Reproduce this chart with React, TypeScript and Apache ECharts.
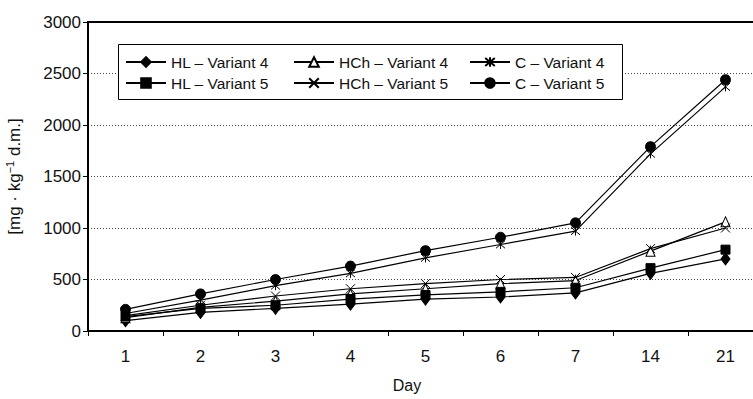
import React, { useEffect, useRef } from "react";
import * as echarts from "echarts";

const days = ["1", "2", "3", "4", "5", "6", "7", "14", "21"];
const hlV4 = [100, 180, 220, 260, 310, 330, 370, 560, 700];
const hlV5 = [140, 220, 250, 310, 350, 380, 420, 610, 790];
const hchV4 = [130, 230, 290, 360, 410, 460, 490, 775, 1060];
const hchV5 = [150, 250, 340, 410, 460, 500, 520, 800, 1000];
const cV4 = [170, 300, 440, 560, 710, 840, 970, 1720, 2370];
const cV5 = [210, 360, 500, 630, 780, 910, 1050, 1790, 2440];
const yTicks = [0, 500, 1000, 1500, 2000, 2500, 3000];

const FONT = "Liberation Sans, Arial, sans-serif";
const X_PATH = "path://M0,0L10,10M10,0L0,10";
const STAR_PATH = "path://M0,0L10,10M10,0L0,10M5,-1L5,11";

export default function App() {
  const ref = useRef<HTMLDivElement>(null);
  useEffect(() => {
    if (!ref.current) return;
    const chart = echarts.init(ref.current, null, { renderer: "svg" });
    const mk = (name: string, data: number[], symbol: string, size: any, fill: string) => ({
      name,
      type: "line",
      data,
      symbol,
      symbolSize: size,
      showSymbol: true,
      lineStyle: { color: "#000", width: 1.2 },
      itemStyle: { color: fill, borderColor: "#000", borderWidth: 1 },
      emphasis: { disabled: true },
    });
    const legendBase = {
      orient: "vertical",
      top: 54,
      itemWidth: 40,
      itemHeight: 12,
      itemGap: 5,
      padding: 0,
      z: 10,
      textStyle: { fontSize: 15.5, fontFamily: FONT, color: "#111" },
      selectedMode: false,
    };
    chart.setOption({
      animation: false,
      backgroundColor: "#fff",
      grid: { left: 88, top: 22, width: 675, height: 309, outerBoundsMode: "none", containLabel: false },
      legend: [
        { ...legendBase, left: 125, data: ["HL – Variant 4", "HL – Variant 5"] },
        { ...legendBase, left: 293, data: ["HCh – Variant 4", "HCh – Variant 5"] },
        { ...legendBase, left: 469, data: ["C – Variant 4", "C – Variant 5"] },
      ],
      graphic: [
        {
          type: "rect",
          z: 5,
          shape: { x: 118.5, y: 44.5, width: 504, height: 55 },
          style: { fill: "#fff", stroke: "#000", lineWidth: 1 },
        },
        {
          type: "text",
          x: 407,
          y: 385,
          style: { text: "Day", fontSize: 16, fontFamily: FONT, fill: "#111", textAlign: "center", textVerticalAlign: "middle" },
        },
      ],
      xAxis: [
        {
          type: "category",
          data: days,
          boundaryGap: true,
          axisLine: { lineStyle: { color: "#000", width: 2 } },
          axisTick: { show: true, length: 5, lineStyle: { color: "#000", width: 1 } },
          axisLabel: { fontSize: 17, fontFamily: FONT, color: "#111", margin: 17 },
          splitLine: { show: false },
        },
        {
          type: "category",
          data: days,
          position: "top",
          axisLine: { show: true, lineStyle: { color: "#000", width: 2 } },
          axisTick: { show: false },
          axisLabel: { show: false },
        },
      ],
      yAxis: {
        type: "value",
        min: 0,
        max: 3000,
        interval: 500,
        axisLine: { show: true, lineStyle: { color: "#000", width: 2 } },
        axisTick: { show: true, length: 5, lineStyle: { color: "#000", width: 1 } },
        axisLabel: {
          fontSize: 17,
          fontFamily: FONT,
          color: "#111",
          margin: 7,
          formatter: (v: number) => (yTicks.includes(v) ? String(v) : ""),
        },
        splitLine: { show: true, lineStyle: { color: "#444", width: 1, type: [1, 2] } },
        name: "{a|[mg · kg}{s|−1}{a| d.m.]}",
        nameLocation: "middle",
        nameRotate: 90,
        nameGap: 64,
        nameTextStyle: {
          fontFamily: FONT,
          color: "#111",
          rich: {
            a: { fontSize: 17, fontFamily: FONT, color: "#111", lineHeight: 20 },
            s: { fontSize: 11, fontFamily: FONT, color: "#111", verticalAlign: "top", lineHeight: 12 },
          },
        },
      },
      series: [
        mk("HL – Variant 4", hlV4, "diamond", [9, 12], "#000"),
        mk("HCh – Variant 4", hchV4, "triangle", [9, 10], "#fff"),
        mk("C – Variant 4", cV4, STAR_PATH, [9, 9], "#000"),
        mk("HL – Variant 5", hlV5, "rect", [9, 9], "#000"),
        mk("HCh – Variant 5", hchV5, X_PATH, [9, 9], "#000"),
        mk("C – Variant 5", cV5, "circle", 10, "#000"),
      ],
    });
    return () => chart.dispose();
  }, []);
  return (
    <div
      ref={ref}
      style={{ position: "fixed", left: 0, top: 0, width: 753, height: 399, background: "#fff" }}
    />
  );
}
